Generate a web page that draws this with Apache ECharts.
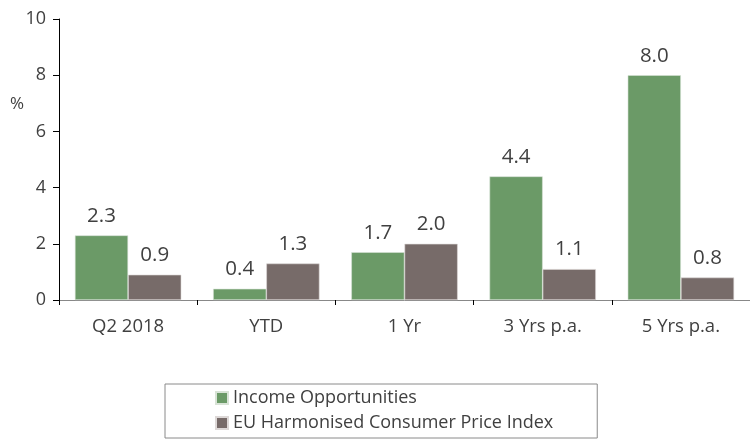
<!DOCTYPE html>
<html><head><meta charset="utf-8">
<script src="https://cdn.jsdelivr.net/npm/echarts@6/dist/echarts.min.js"></script>
<style>html,body{margin:0;padding:0;background:#fff}#c{width:750px;height:440px}</style>
</head><body><div id="c"></div>
<script>
const categories = ['Q2 2018', 'YTD', '1 Yr', '3 Yrs p.a.', '5 Yrs p.a.'];
const incomeOpp = [2.3, 0.4, 1.7, 4.4, 8.0];
const euHicp = [0.9, 1.3, 2.0, 1.1, 0.8];
const seriesNames = ['Income Opportunities', 'EU Harmonised Consumer Price Index'];
const yTicks = {min: 0, max: 10, interval: 2};

const FONT = 'Open Sans';
const TXT = '#404040';
const chart = echarts.init(document.getElementById('c'));
const label = {show: true, position: 'top', distance: 9, fontSize: 20.5, color: TXT, fontFamily: FONT,
  formatter: p => p.value.toFixed(1)};
chart.setOption({
  animation: false,
  textStyle: {fontFamily: FONT},
  grid: {left: 59, top: 19, width: 696, height: 281},
  legend: {
    orient: 'vertical', left: 165, top: 384,
    padding: [5, 44, 6, 50], itemGap: 7,
    itemWidth: 12, itemHeight: 12, icon: 'rect',
    borderColor: '#8a8a8a', borderWidth: 1,
    textStyle: {fontSize: 18, color: TXT, fontFamily: FONT},
    data: seriesNames
  },
  xAxis: {
    type: 'category', data: categories,
    axisLine: {lineStyle: {color: '#888', width: 1}},
    axisTick: {show: true, length: 5, lineStyle: {color: '#000'}},
    axisLabel: {fontSize: 18.5, color: TXT, margin: 17, fontFamily: FONT}
  },
  yAxis: {
    type: 'value', min: yTicks.min, max: yTicks.max, interval: yTicks.interval,
    axisLine: {show: true, lineStyle: {color: '#000'}},
    axisTick: {show: true, length: 6, lineStyle: {color: '#000'}},
    splitLine: {show: false},
    axisLabel: {fontSize: 18, color: TXT, margin: 13, fontFamily: FONT}
  },
  graphic: [{type: 'text', left: 10, top: 96, style: {text: '%', fontSize: 17, fill: TXT, fontFamily: FONT}}],
  series: [
    {name: seriesNames[0], type: 'bar', data: incomeOpp, barGap: '0%', barCategoryGap: '23%',
      itemStyle: {color: '#6b9a67', borderColor: '#d8e3d6', borderWidth: 0.6}, label},
    {name: seriesNames[1], type: 'bar', data: euHicp,
      itemStyle: {color: '#776b69', borderColor: '#ddd8d7', borderWidth: 0.6}, label}
  ]
});
</script></body></html>
